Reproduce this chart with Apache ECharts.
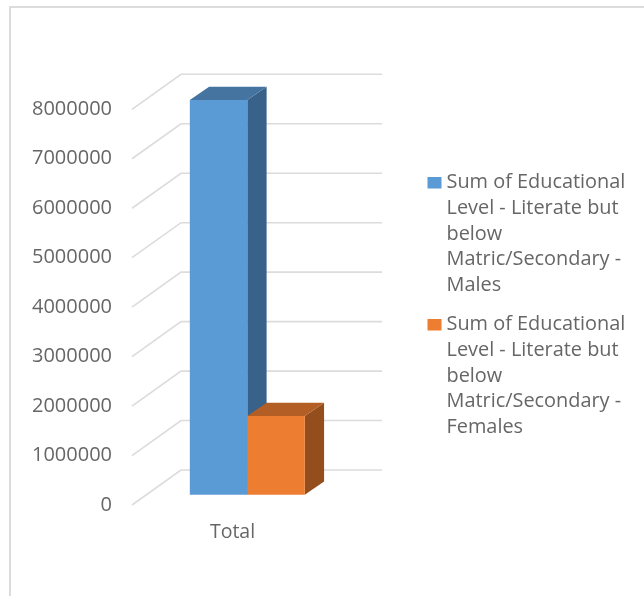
<!DOCTYPE html>
<html><head><meta charset="utf-8">
<style>html,body{margin:0;padding:0;background:#fff}#c{width:644px;height:596px}</style>
<script src="https://cdn.jsdelivr.net/npm/echarts@6/dist/echarts.min.js"></script>
</head><body><div id="c"></div>
<script>
const categories = ['Total'];
const tickValues = [0,1000000,2000000,3000000,4000000,5000000,6000000,7000000,8000000];
const maleValues = [7980000];
const femaleValues = [1590000];
const seriesNames = [
  'Sum of Educational Level - Literate but below Matric/Secondary - Males',
  'Sum of Educational Level - Literate but below Matric/Secondary - Females'
];

const FONT = '"Open Sans", sans-serif';
const TEXT = '#666666';
const wallDepth = [49, -35];
const floorOffset = [14.8, -10.3];
const barDepth = [19.3, -13.3];
const barFrac = 0.286;

function wallItem(params, api) {
  const cs = params.coordSys;
  const y = api.coord([0, api.value(1)])[1];
  const x0 = cs.x, x1 = x0 + wallDepth[0], y1 = y + wallDepth[1];
  return {type:'polyline', silent:true, shape:{points:[[x0,y],[x1,y1],[x1+cs.width,y1]]},
    style:{fill:'none', stroke:'#dcdcdc', lineWidth:1.6}};
}
function barItem(side, front, top, right) {
  return function (params, api) {
    const p = api.coord([api.value(0), api.value(1)]);
    const b = api.coord([api.value(0), 0]);
    const w = api.size([1,0])[0] * barFrac;
    const xl = p[0] + floorOffset[0] + (side < 0 ? -w : 0), xr = xl + w;
    const yt = p[1] + floorOffset[1], yb = b[1] + floorOffset[1];
    const dx = barDepth[0], dy = barDepth[1];
    return {type:'group', children:[
      {type:'polygon', shape:{points:[[xr,yt],[xr+dx,yt+dy],[xr+dx,yb+dy],[xr,yb]]}, style:{fill:right}},
      {type:'polygon', shape:{points:[[xl,yt],[xl+dx,yt+dy],[xr+dx,yt+dy],[xr,yt]]}, style:{fill:top}},
      {type:'rect', shape:{x:xl,y:yt,width:w,height:yb-yt}, style:{fill:front}}
    ]};
  };
}
const legendIcon = 'path://M0 7H14V18.5H0Z M0 0H0.01V0.01H0Z M0 127.99H0.01V128H0Z';

const chart = echarts.init(document.getElementById('c'), null, {renderer:'canvas'});
chart.setOption({
  animation:false,
  backgroundColor:'#fff',
  graphic:[
    {type:'polyline', silent:true, shape:{points:[[10,596],[10,7],[644,7]]},
     style:{fill:'none', stroke:'#dcdcdc', lineWidth:2}}
  ],
  grid:{left:132, top:109.3, width:201, height:395.7, containLabel:false},
  xAxis:{type:'category', data:categories, axisLine:{show:false}, axisTick:{show:false},
    axisLabel:{color:TEXT, fontFamily:FONT, fontSize:19.5, margin:17}},
  yAxis:{type:'value', min:0, max:8000000, interval:1000000, axisLine:{show:false}, axisTick:{show:false},
    splitLine:{show:false}, axisLabel:{color:TEXT, fontFamily:FONT, fontSize:20, margin:20, padding:[2,0,0,0],
      formatter:function(v){return String(v);}}},
  legend:{orient:'vertical', left:427.5, top:170, itemWidth:14, itemHeight:128, itemGap:14, itemStyle:{borderWidth:0},
    selectedMode:false, icon:legendIcon, data:seriesNames, padding:0,
    formatter:function(n){return n.replace('Educational ','Educational\n').replace('but ','but\n').replace('below ','below\n').replace(/- (Males|Females)/,'-\n$1');},
    textStyle:{color:TEXT, fontFamily:FONT, fontSize:19.9, lineHeight:25.6, padding:[0,0,0,0]}},
  series:[
    {type:'custom', name:'wall', silent:true, z:1, renderItem:wallItem, encode:{x:0,y:1},
      data:tickValues.map(v=>[categories[0],v])},
    {type:'custom', name:seriesNames[0], z:2, itemStyle:{color:'#5B9BD5'},
      renderItem:barItem(-1,'#5B9BD5','#44749F','#38628A'), encode:{x:0,y:1},
      data:categories.map((c,i)=>[c,maleValues[i]])},
    {type:'custom', name:seriesNames[1], z:3, itemStyle:{color:'#ED7D31'},
      renderItem:barItem(1,'#ED7D31','#B25E25','#944E1E'), encode:{x:0,y:1},
      data:categories.map((c,i)=>[c,femaleValues[i]])}
  ]
});
</script></body></html>
